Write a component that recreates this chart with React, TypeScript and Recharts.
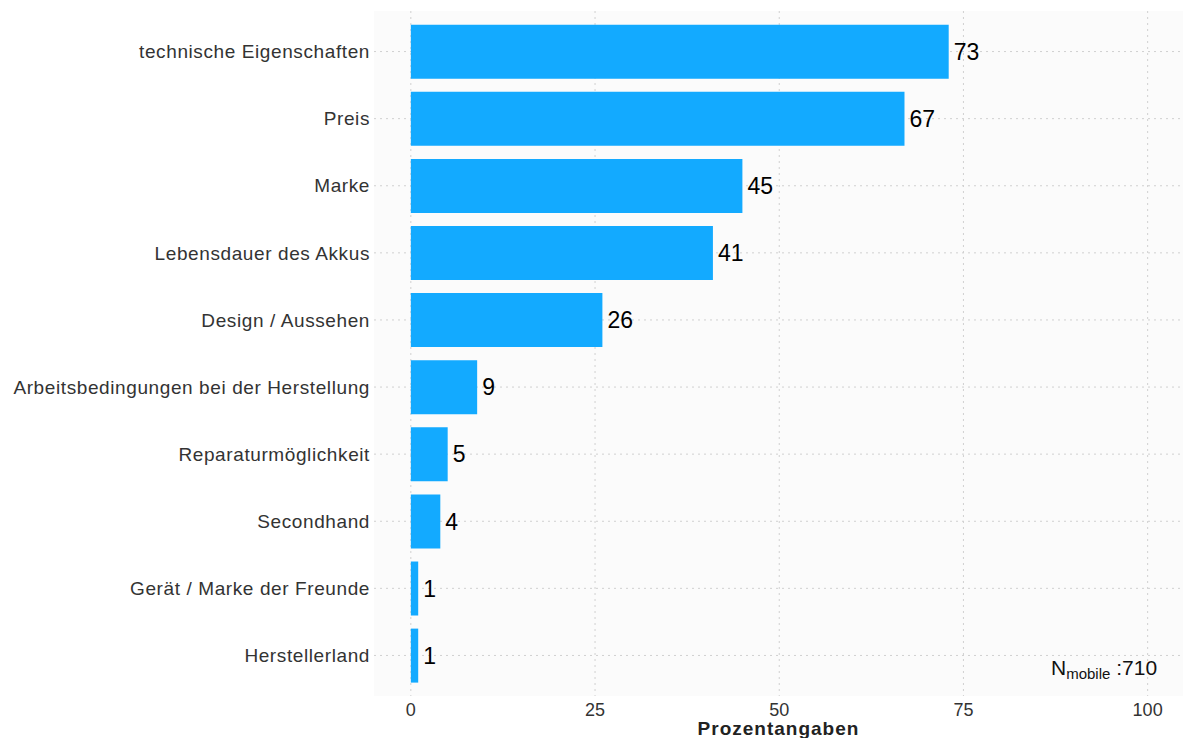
import { BarChart, Bar, XAxis, YAxis, CartesianGrid, LabelList, Label } from 'recharts';

const categories = [
  'technische Eigenschaften',
  'Preis',
  'Marke',
  'Lebensdauer des Akkus',
  'Design / Aussehen',
  'Arbeitsbedingungen bei der Herstellung',
  'Reparaturmöglichkeit',
  'Secondhand',
  'Gerät / Marke der Freunde',
  'Herstellerland',
];
const values = [73, 67, 45, 41, 26, 9, 5, 4, 1, 1];
const xTicks = [0, 25, 50, 75, 100];

const data = categories.map((name, i) => ({ name, value: values[i] }));

const font = 'Arial, "Liberation Sans", sans-serif';

export default function App() {
  return (
    <div style={{ position: 'absolute', left: 0, top: 0, width: 1183, height: 738, fontFamily: font }}>
      <BarChart
        width={1183}
        height={738}
        data={data}
        layout="vertical"
        margin={{ top: 11, right: 0, bottom: 0, left: 0 }}
        barCategoryGap="10%"
      >
        <CartesianGrid fill="#fbfbfb" stroke="#d0d0d0" strokeDasharray="2 4" syncWithTicks />
        <XAxis
          type="number"
          domain={[-5, 104.8]}
          ticks={xTicks}
          allowDataOverflow
          axisLine={false}
          tickLine={false}
          tickSize={0}
          tickMargin={7}
          height={42}
          tick={{ fill: '#333', fontSize: 18, fontFamily: font }}
        >
          <Label
            value="Prozentangaben"
            position="insideBottom"
            offset={3}
            style={{ fill: '#222', fontSize: 19, fontWeight: 'bold', letterSpacing: 1, fontFamily: font }}
          />
        </XAxis>
        <YAxis
          type="category"
          dataKey="name"
          width={374}
          axisLine={false}
          tickLine={false}
          tickSize={0}
          tickMargin={4}
          interval={0}
          padding={{ top: 7, bottom: 7 }}
          tick={{ fill: '#333', fontSize: 19, letterSpacing: 0.6, fontFamily: font }}
        />
        <Bar dataKey="value" fill="#13aaff" isAnimationActive={false}>
          <LabelList
            dataKey="value"
            position="right"
            offset={5}
            style={{ fill: '#000', fontSize: 23, fontFamily: font }}
          />
        </Bar>
      </BarChart>
      <svg
        width={1183}
        height={738}
        style={{ position: 'absolute', left: 0, top: 0, pointerEvents: 'none' }}
      >
        <text x={1051} y={675} fontSize={21} fill="#111" fontFamily={font}>
          N
          <tspan fontSize={15} dy={4}>mobile</tspan>
          <tspan dy={-4}> :710</tspan>
        </text>
      </svg>
    </div>
  );
}
